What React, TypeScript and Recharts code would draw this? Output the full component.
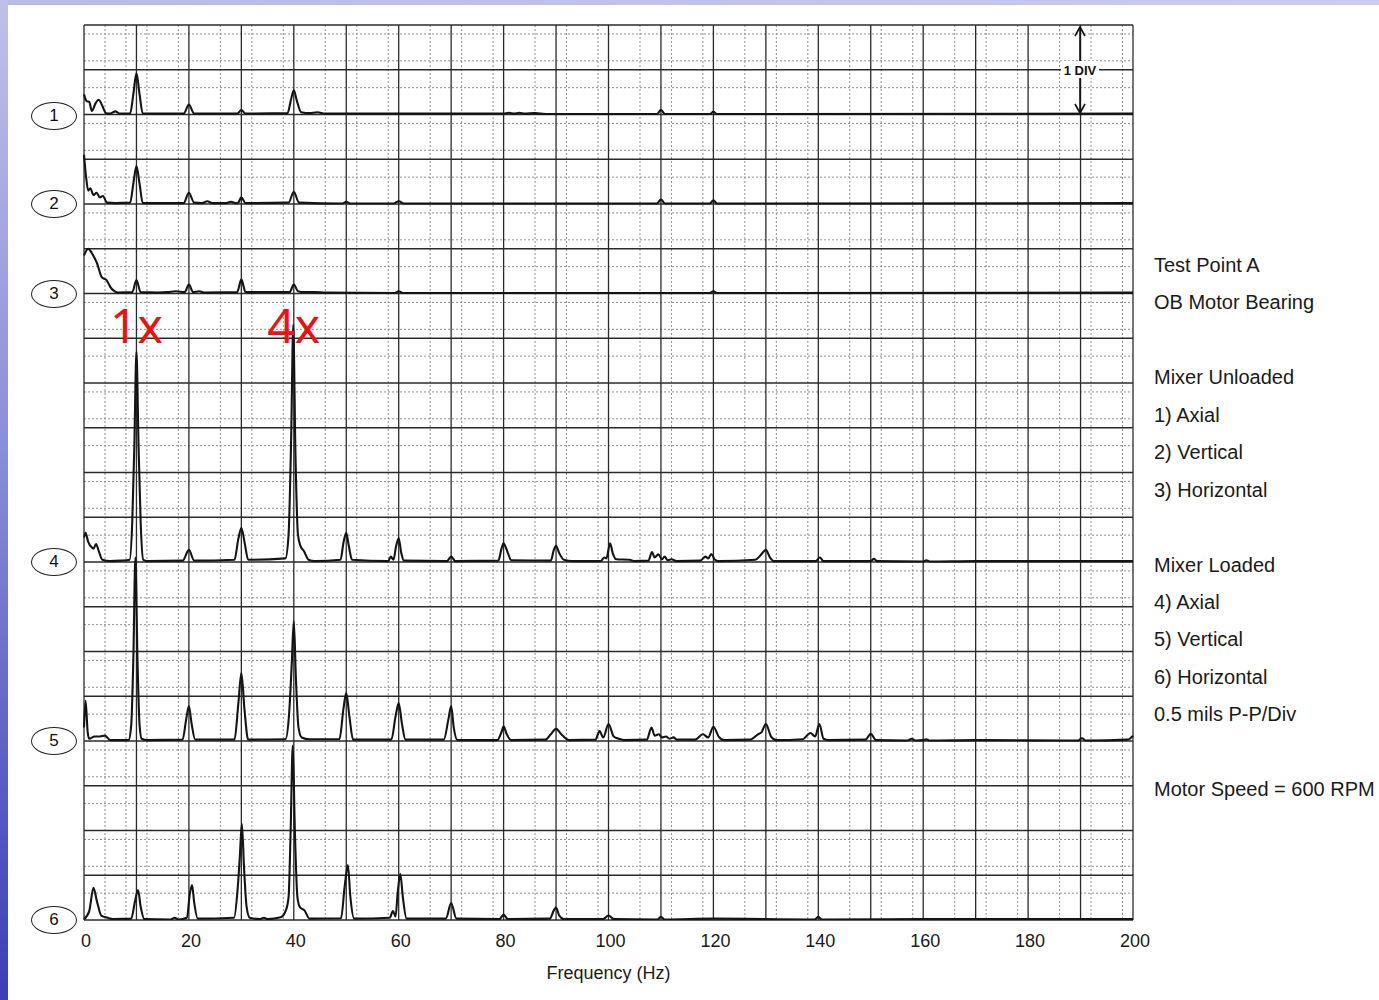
import { LineChart, Line, XAxis, YAxis, CartesianGrid, ReferenceDot } from "recharts";

// spectrum traces: [frequency Hz, amplitude in divisions above the trace baseline]
const trace1: [number, number][] = [
  [0, 0.45], [0.5, 0.3], [1, 0.28], [1.5, 0.08], [2.2, 0.25], [2.8, 0.33], [3.4, 0.22], [4.2, 0.03],
  [5, 0.02], [6, 0.07], [6.8, 0.02], [8.8, 0.02], [9.4, 0.45], [10, 0.92], [10.6, 0.45], [11.2, 0.02],
  [19, 0.02], [20, 0.22], [21, 0.02], [29.2, 0.02], [30, 0.1], [30.8, 0.02], [38.8, 0.03],
  [39.5, 0.35], [40, 0.54], [40.6, 0.3], [41.4, 0.05], [43, 0.03], [44.5, 0.05], [46, 0.02],
  [80, 0.02], [81, 0.04], [82, 0.02], [83, 0.04], [84, 0.02], [86, 0.03], [88, 0.01],
  [109.2, 0.01], [110, 0.1], [110.8, 0.01], [119.3, 0.01], [120, 0.06], [120.7, 0.01], [200, 0.02],
];

const trace2: [number, number][] = [
  [0, 1.1], [0.4, 0.6], [0.8, 0.3], [1.2, 0.35], [1.8, 0.2], [2.4, 0.25], [3, 0.15], [3.6, 0.18],
  [4.4, 0.03], [6, 0.02], [8.8, 0.03], [9.4, 0.45], [10, 0.85], [10.6, 0.45], [11.2, 0.02], [19, 0.02],
  [20, 0.25], [21, 0.03], [22.5, 0.02], [23.5, 0.06], [24.5, 0.02], [27, 0.02], [28, 0.05],
  [29, 0.02], [29.4, 0.03], [30, 0.15], [30.8, 0.02], [39, 0.03], [40, 0.27], [41, 0.03],
  [49.3, 0.01], [50, 0.05], [50.7, 0.01], [59, 0.01], [60, 0.06], [61, 0.01], [109.2, 0.01],
  [110, 0.1], [110.8, 0.01], [119.3, 0.01], [120, 0.08], [120.7, 0.01], [200, 0.02],
];

const trace3: [number, number][] = [
  [0, 0.85], [0.8, 1.0], [1.5, 0.9], [2.5, 0.67], [3.4, 0.36], [4.3, 0.3], [5, 0.15], [5.6, 0.07],
  [6.5, 0.02], [9.2, 0.03], [10, 0.3], [10.8, 0.03], [14, 0.02], [16, 0.03], [17.5, 0.05],
  [19.2, 0.03], [20, 0.2], [20.8, 0.03], [22, 0.05], [23, 0.02], [29.2, 0.03], [30, 0.32],
  [30.8, 0.03], [39.2, 0.03], [40, 0.2], [40.8, 0.05], [42, 0.03], [44, 0.03], [46, 0.02],
  [59.3, 0.01], [60, 0.05], [60.8, 0.01], [119.3, 0.01], [120, 0.05], [120.7, 0.01], [200, 0.02],
];

const trace4: [number, number][] = [
  [0, 0.55], [0.3, 0.65], [0.8, 0.45], [1.3, 0.35], [1.8, 0.3], [2.3, 0.4], [2.8, 0.25], [3.5, 0.05],
  [5, 0.02], [7, 0.03], [8.7, 0.05], [9.2, 0.9], [9.6, 2.6], [10, 4.7], [10.4, 2.6], [10.8, 0.9],
  [11.3, 0.05], [12, 0.02], [18.8, 0.03], [20, 0.27], [21, 0.03], [28.7, 0.05], [29.4, 0.5],
  [30, 0.76], [30.6, 0.45], [31.3, 0.05], [38.4, 0.08], [39, 0.6], [39.5, 2.8], [39.9, 5.3],
  [40.3, 2.5], [40.8, 0.6], [41.3, 0.35], [41.9, 0.25], [42.8, 0.05], [44, 0.02], [48.9, 0.05],
  [49.5, 0.45], [50, 0.65], [50.5, 0.35], [51.1, 0.05], [58, 0.02], [58.5, 0.12], [59, 0.05],
  [59.5, 0.35], [60, 0.53], [60.5, 0.2], [61, 0.03], [69.2, 0.02], [70, 0.12], [70.8, 0.02],
  [79, 0.03], [79.6, 0.3], [80, 0.42], [80.5, 0.3], [81.5, 0.04], [89, 0.03], [89.6, 0.28],
  [90, 0.36], [90.6, 0.2], [91.5, 0.05], [93, 0.02], [98.5, 0.02], [99.2, 0.1], [99.6, 0.08],
  [100.3, 0.42], [100.8, 0.2], [101.5, 0.06], [104, 0.05], [105, 0.02], [107.6, 0.03],
  [108.3, 0.22], [108.8, 0.1], [109.5, 0.17], [110.2, 0.06], [110.7, 0.12], [111.3, 0.04],
  [112, 0.06], [113, 0.02], [117.5, 0.03], [118.5, 0.12], [119, 0.08], [119.6, 0.18], [120.3, 0.05],
  [121, 0.02], [128, 0.05], [129, 0.15], [130, 0.27], [130.8, 0.1], [131.5, 0.02], [139.5, 0.02],
  [140.3, 0.1], [141, 0.02], [150, 0.02], [150.6, 0.07], [151.2, 0.02], [160, 0.01], [160.6, 0.04],
  [161.3, 0.01], [170, 0.02], [200, 0.02],
];

const trace5: [number, number][] = [
  [0, 0.3], [0.3, 0.9], [0.7, 0.2], [1, 0.05], [2, 0.1], [3, 0.1], [4, 0.12], [5, 0.02],
  [8.5, 0.02], [9, 0.35], [9.4, 1.8], [9.8, 4.1], [10.2, 1.8], [10.6, 0.35], [11, 0.05], [12, 0.02],
  [18.8, 0.03], [19.5, 0.5], [20, 0.78], [20.5, 0.4], [21.2, 0.03], [28.7, 0.03], [29.4, 0.8],
  [30, 1.52], [30.6, 0.7], [31.3, 0.03], [38.4, 0.04], [39.1, 0.6], [39.6, 1.7], [40, 2.68],
  [40.4, 1.4], [40.9, 0.3], [41.5, 0.08], [43, 0.04], [48.7, 0.04], [49.5, 0.75], [50, 1.07],
  [50.6, 0.55], [51.3, 0.03], [58.6, 0.03], [59.4, 0.55], [60, 0.85], [60.6, 0.4], [61.3, 0.03],
  [68.6, 0.03], [69.5, 0.5], [70, 0.78], [70.5, 0.3], [71.2, 0.02], [78.8, 0.02], [79.6, 0.2],
  [80, 0.33], [80.6, 0.15], [81.5, 0.02], [88, 0.03], [89, 0.15], [90, 0.27], [91, 0.15],
  [92.5, 0.02], [97.5, 0.03], [98.3, 0.22], [99, 0.08], [100, 0.38], [101, 0.1], [102, 0.05],
  [103, 0.02], [107.3, 0.03], [108.2, 0.3], [108.8, 0.12], [109.6, 0.15], [110.2, 0.08], [111, 0.1],
  [111.6, 0.05], [112.4, 0.08], [113, 0.03], [116.5, 0.03], [118, 0.15], [119, 0.08], [120, 0.32],
  [121, 0.1], [122, 0.02], [127, 0.03], [128.5, 0.15], [129.2, 0.2], [130, 0.38], [131, 0.1],
  [132, 0.02], [137, 0.04], [138.5, 0.18], [139.4, 0.1], [140.2, 0.38], [141, 0.05], [142, 0.02],
  [149, 0.03], [150, 0.16], [151, 0.02], [157, 0.01], [157.8, 0.05], [158.5, 0.01], [160, 0.02],
  [160.6, 0.04], [161.2, 0.01], [170, 0.02], [189.5, 0.01], [190.3, 0.06], [191, 0.01], [199, 0.03],
  [200, 0.12],
];

const trace6: [number, number][] = [
  [0, 0.02], [1, 0.2], [1.8, 0.72], [2.5, 0.4], [3.3, 0.1], [4.5, 0.05], [5.5, 0.02], [9, 0.03],
  [9.7, 0.4], [10.3, 0.67], [10.8, 0.3], [11.5, 0.02], [16.5, 0.01], [17.3, 0.05], [18, 0.01],
  [19.6, 0.05], [20.2, 0.6], [20.6, 0.78], [21, 0.4], [21.7, 0.03], [28.6, 0.05], [29.3, 0.7],
  [29.7, 1.4], [30.1, 2.15], [30.5, 1.2], [31, 0.3], [31.6, 0.05], [33.5, 0.02], [34.3, 0.05],
  [35, 0.02], [37.5, 0.06], [38.5, 0.22], [39, 0.5], [39.4, 2.0], [39.8, 3.9], [40.2, 2.0],
  [40.7, 0.5], [41.2, 0.28], [42, 0.22], [43, 0.03], [49, 0.04], [49.7, 0.75], [50.3, 1.23],
  [50.8, 0.5], [51.5, 0.03], [58.3, 0.05], [58.9, 0.2], [59.4, 0.08], [59.8, 0.6], [60.3, 1.03],
  [60.8, 0.5], [61.5, 0.03], [69, 0.03], [70, 0.38], [71, 0.03], [79.2, 0.02], [80, 0.12],
  [80.8, 0.02], [88.8, 0.03], [89.6, 0.22], [90, 0.28], [90.6, 0.1], [91.5, 0.02], [99, 0.02],
  [100, 0.1], [101, 0.02], [109.3, 0.01], [110, 0.07], [110.7, 0.01], [120, 0.03], [130, 0.02],
  [139.3, 0.01], [140, 0.07], [140.7, 0.01], [160, 0.02], [200, 0.02],
];

const traces = [trace1, trace2, trace3, trace4, trace5, trace6];
const traceNames = ["1", "2", "3", "4", "5", "6"];
// baseline of each trace, in divisions from the bottom of the chart
const traceBaselines = [18, 16, 14, 8, 4, 0];

const xTicks = [0, 20, 40, 60, 80, 100, 120, 140, 160, 180, 200];
const majorHz = Array.from({ length: 21 }, (_, i) => i * 10);
const minorHz = Array.from({ length: 101 }, (_, i) => i * 2).filter((v) => v % 10 !== 0);
const majorDiv = Array.from({ length: 21 }, (_, i) => i);
const minorDiv = Array.from({ length: 101 }, (_, i) => +(i * 0.2).toFixed(1)).filter((v) => v % 1 !== 0);

const notes = [
  "Test Point A",
  "OB Motor Bearing",
  "",
  "Mixer Unloaded",
  "1) Axial",
  "2) Vertical",
  "3) Horizontal",
  "",
  "Mixer Loaded",
  "4) Axial",
  "5) Vertical",
  "6) Horizontal",
  "0.5 mils P-P/Div",
  "",
  "Motor Speed = 600 RPM",
];

const font = "'Liberation Sans', Arial, sans-serif";
const ellipseY = [116, 204, 294, 562, 741, 920];

export default function App() {
  const series = traces.map((t, i) =>
    t.map(([hz, amp]) => ({ hz, amp: traceBaselines[i] + amp }))
  );

  return (
    <div style={{ position: "absolute", left: 0, top: 0, width: 1379, height: 1000, background: "#fff", fontFamily: font, overflow: "hidden" }}>
      <div style={{ position: "absolute", left: 0, top: 0, width: 1379, height: 5, background: "linear-gradient(90deg, #b7bae6, #c9cbef)" }} />
      <div style={{ position: "absolute", left: 0, top: 0, width: 8, height: 1000, background: "linear-gradient(180deg, #bfc1ea 0%, #8a8ed6 45%, #3b3eb4 100%)" }} />

      <div style={{ position: "absolute", left: 0, top: 0 }}>
        <LineChart width={1379} height={1000} margin={{ top: 25, right: 246, bottom: 0, left: 84 }}>
          <CartesianGrid verticalValues={minorHz} horizontalValues={minorDiv} stroke="#8e8e8e" strokeDasharray="2 2" strokeWidth={1} />
          <CartesianGrid verticalValues={majorHz} horizontalValues={majorDiv} stroke="#2a2a2a" strokeWidth={1.3} />
          <XAxis
            type="number"
            dataKey="hz"
            domain={[0, 200]}
            ticks={xTicks}
            tickLine={false}
            axisLine={false}
            height={80}
            tickMargin={8}
            tick={{ fontSize: 18, fill: "#1a1a1a", fontFamily: font, dx: 2 }}
            label={{ value: "Frequency (Hz)", position: "insideBottom", offset: 21, fontSize: 18, fill: "#1a1a1a", fontFamily: font }}
          />
          <YAxis type="number" domain={[0, 20]} hide allowDataOverflow />
          {series.map((d, i) => (
            <Line
              key={traceNames[i]}
              data={d}
              dataKey="amp"
              name={traceNames[i]}
              type="monotone"
              stroke="#141414"
              strokeWidth={2.1}
              dot={false}
              isAnimationActive={false}
            />
          ))}
          <ReferenceDot x={10} y={13.27} r={0} fill="none" stroke="none" ifOverflow="visible"
            label={{ value: "1x", position: "center", fill: "#f01010", fontSize: 48, fontFamily: "'Noto Sans', sans-serif" }} />
          <ReferenceDot x={40} y={13.27} r={0} fill="none" stroke="none" ifOverflow="visible"
            label={{ value: "4x", position: "center", fill: "#f01010", fontSize: 48, fontFamily: "'Noto Sans', sans-serif" }} />
        </LineChart>
      </div>

      <svg width={1379} height={1000} style={{ position: "absolute", left: 0, top: 0, pointerEvents: "none" }}>
        <line x1={1080} y1={29} x2={1080} y2={111} stroke="#111" strokeWidth={1.6} />
        <path d="M1075,36 L1080,27 L1085,36" fill="none" stroke="#111" strokeWidth={1.6} />
        <path d="M1075,104 L1080,113 L1085,104" fill="none" stroke="#111" strokeWidth={1.6} />
        <rect x={1061} y={61} width={38} height={17} fill="#fff" />
        <text x={1080} y={75} textAnchor="middle" fontSize={13} fontWeight={700} fill="#111" fontFamily={font}>1 DIV</text>
      </svg>

      {ellipseY.map((y, i) => (
        <div
          key={i}
          style={{
            position: "absolute", left: 31, top: y - 14, width: 44, height: 26, border: "1.5px solid #222",
            borderRadius: "50%", display: "flex", alignItems: "center", justifyContent: "center",
            fontSize: 17, color: "#111", boxSizing: "content-box",
          }}
        >
          {traceNames[i]}
        </div>
      ))}

      <div style={{ position: "absolute", left: 1154, top: 247, lineHeight: "37.45px", fontSize: 20, color: "#1a1a1a", whiteSpace: "pre" }}>
        {notes.map((n, i) => (
          <div key={i} style={{ height: 37.45 }}>{n || " "}</div>
        ))}
      </div>
    </div>
  );
}
